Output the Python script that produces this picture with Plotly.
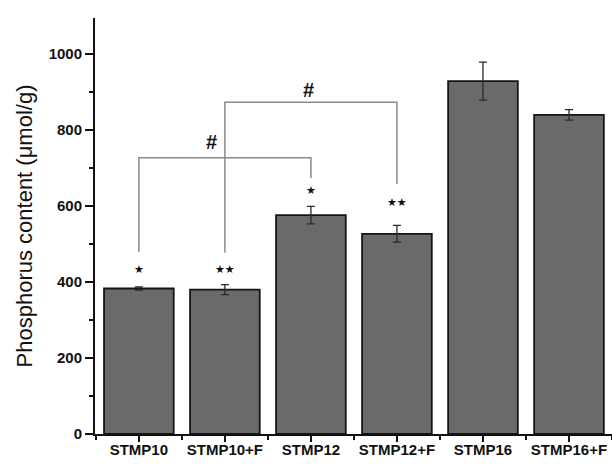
import plotly.graph_objects as go

categories = ["STMP10", "STMP10+F", "STMP12", "STMP12+F", "STMP16", "STMP16+F"]
values = [383, 380, 576, 527, 929, 840]
errors = [4, 13, 23, 22, 50, 14]
star_labels = ["★", "★★", "★", "★★", "", ""]
star_y = [432, 432, 640, 610, None, None]

# comparison brackets: (left index, right index, bar height, left leg end, right leg end)
bracket_left = [0, 1]
bracket_right = [2, 3]
bracket_top = [727, 873]
bracket_left_end = [479, 477]
bracket_right_end = [674, 658]
bracket_label = ["#", "#"]
bracket_label_x = [0.85, 1.97]
bracket_label_y = [768, 905]

y_ticks = [0, 200, 400, 600, 800, 1000]

xs = list(range(len(categories)))

fig = go.Figure()
fig.add_trace(go.Bar(
    x=xs, y=values,
    marker=dict(color="#6a6a6a", line=dict(color="#151515", width=1.8)),
    error_y=dict(type="data", array=errors, color="#2a2a2a", thickness=1.3, width=4),
    width=0.81,
    showlegend=False,
))

for l, r, top, le, re_ in zip(bracket_left, bracket_right, bracket_top, bracket_left_end, bracket_right_end):
    fig.add_trace(go.Scatter(
        x=[l, l, r, r], y=[le, top, top, re_],
        mode="lines", line=dict(color="#8a8a8a", width=1.5),
        showlegend=False, hoverinfo="skip",
    ))

for x, s, y in zip(xs, star_labels, star_y):
    if s:
        fig.add_annotation(x=x, y=y, text=s, showarrow=False,
                           font=dict(family="DejaVu Sans", size=11, color="#111"),
                           xref="x", yref="y")

for t, x, y in zip(bracket_label, bracket_label_x, bracket_label_y):
    fig.add_annotation(x=x, y=y, text=t, showarrow=False,
                       font=dict(family="Liberation Sans", size=20, color="#111", weight="bold"),
                       xref="x", yref="y")

fig.update_layout(
    width=612, height=464,
    margin=dict(l=95, r=0, t=18, b=30),
    paper_bgcolor="white", plot_bgcolor="white",
    bargap=0.19,
)
fig.update_xaxes(
    range=[-0.51, 5.5],
    automargin=False,
    tickmode="array", tickvals=xs, ticktext=categories,
    tickfont=dict(family="Liberation Sans", size=15, color="#111", weight="bold"),
    ticklabeloverflow="allow",
    showline=True, linecolor="#111", linewidth=2,
    ticks="outside", ticklen=6, tickwidth=1.5, tickcolor="#111",
    ticklabelstandoff=-5,
    minor=dict(tickmode="linear", tick0=0.5, dtick=1, ticks="outside", ticklen=4, tickwidth=1.5, tickcolor="#111"),
    showgrid=False, zeroline=False,
)
fig.update_yaxes(
    range=[0, 1095],
    automargin=False,
    tickmode="array", tickvals=y_ticks,
    tickfont=dict(family="Liberation Sans", size=15, color="#111", weight="bold"),
    showline=True, linecolor="#111", linewidth=2,
    ticks="outside", ticklen=8, tickwidth=1.5, tickcolor="#111",
    minor=dict(tickmode="linear", tick0=0, dtick=100, ticks="outside", ticklen=4, tickwidth=1.5, tickcolor="#111"),
    showgrid=False, zeroline=False,
    title=dict(text="Phosphorus content (μmol/g)",
               font=dict(family="Liberation Sans", size=22, color="#111"), standoff=10),
)

fig.write_html(
    "out.html",
    config={"displayModeBar": False},
    post_script="document.body.style.margin='0';document.body.style.overflow='hidden';",
)
